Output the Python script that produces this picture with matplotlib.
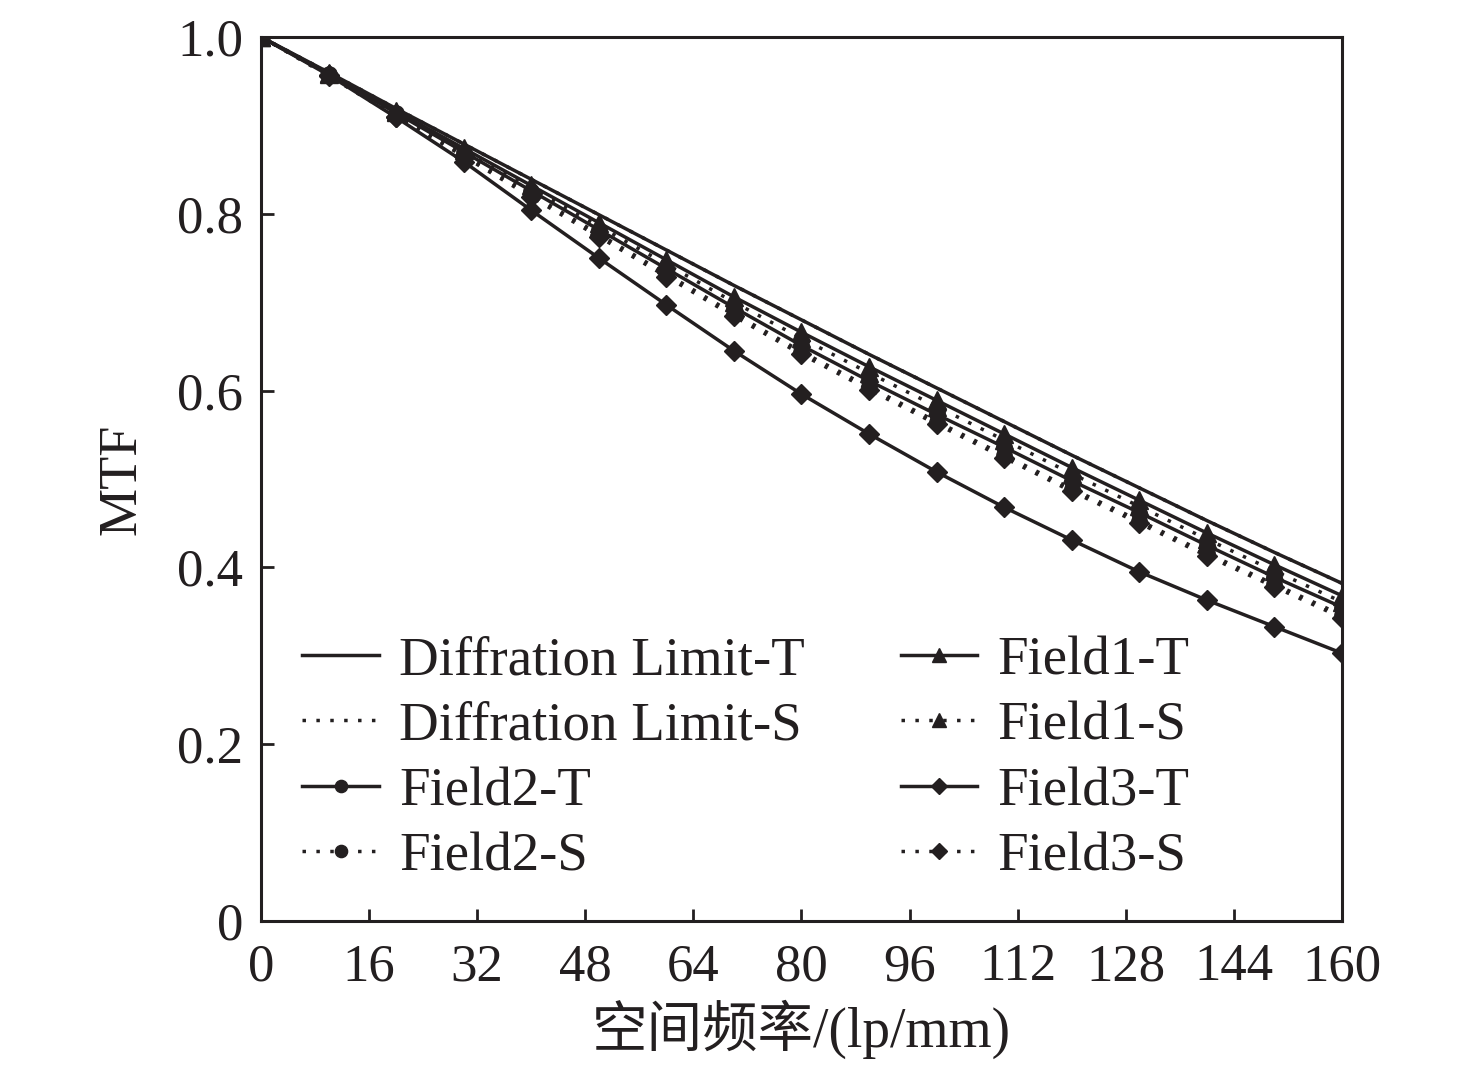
import matplotlib
matplotlib.use('Agg')
import matplotlib.pyplot as plt

plt.rcParams['font.family'] = ['Liberation Serif', 'Noto Sans CJK SC']
plt.rcParams['font.size'] = 38

# spatial frequency (lp/mm) and MTF values
freq = [0, 10, 20, 30, 40, 50, 60, 70, 80, 90, 100, 110, 120, 130, 140, 150, 160]
diff_t = [1.000, 0.960, 0.919, 0.879, 0.839, 0.799, 0.759, 0.719, 0.680, 0.641, 0.603, 0.565, 0.527, 0.490, 0.453, 0.417, 0.382]
diff_s = [1.000, 0.960, 0.919, 0.879, 0.839, 0.799, 0.759, 0.719, 0.680, 0.641, 0.603, 0.565, 0.527, 0.490, 0.453, 0.417, 0.382]
f1_t = [1.000, 0.959, 0.916, 0.874, 0.832, 0.790, 0.748, 0.706, 0.666, 0.627, 0.589, 0.551, 0.513, 0.476, 0.439, 0.403, 0.368]
f1_s = [1.000, 0.958, 0.915, 0.872, 0.829, 0.786, 0.743, 0.700, 0.659, 0.620, 0.582, 0.544, 0.506, 0.469, 0.432, 0.396, 0.361]
f2_t = [1.000, 0.958, 0.914, 0.870, 0.826, 0.782, 0.738, 0.694, 0.651, 0.611, 0.573, 0.536, 0.498, 0.462, 0.425, 0.389, 0.355]
f2_s = [1.000, 0.957, 0.912, 0.867, 0.822, 0.777, 0.732, 0.687, 0.644, 0.604, 0.565, 0.527, 0.489, 0.453, 0.416, 0.381, 0.346]
f3_t = [1.000, 0.957, 0.909, 0.859, 0.804, 0.750, 0.697, 0.645, 0.596, 0.551, 0.508, 0.468, 0.431, 0.395, 0.363, 0.333, 0.303]
f3_s = [1.000, 0.956, 0.910, 0.865, 0.819, 0.774, 0.729, 0.684, 0.641, 0.601, 0.562, 0.524, 0.486, 0.450, 0.413, 0.378, 0.343]

x_ticks = [0, 16, 32, 48, 64, 80, 96, 112, 128, 144, 160]
y_ticks = [0, 0.2, 0.4, 0.6, 0.8, 1.0]
y_tick_labels = ['0', '0.2', '0.4', '0.6', '0.8', '1.0']

ink = '#231f20'
dots = (0, (1, 3))

fig = plt.figure(figsize=(14.76, 10.71), dpi=100)
ax = fig.add_axes([0.1768, 0.140, 0.7324, 0.8255])

ax.plot(freq, diff_t, color=ink, lw=2.5, label='Diffration Limit-T')
ax.plot(freq, diff_s, color=ink, lw=2.5, ls=dots, label='Diffration Limit-S')
ax.plot(freq, f2_t, color=ink, lw=2.5, marker='o', ms=11, label='Field2-T')
ax.plot(freq, f2_s, color=ink, lw=2.5, ls=dots, marker='o', ms=11, label='Field2-S')
ax.plot(freq, f1_t, color=ink, lw=2.5, marker='^', ms=13, label='Field1-T')
ax.plot(freq, f1_s, color=ink, lw=2.5, ls=dots, marker='^', ms=13, label='Field1-S')
ax.plot(freq, f3_t, color=ink, lw=2.5, marker='D', ms=10.5, label='Field3-T')
ax.plot(freq, f3_s, color=ink, lw=2.5, ls=dots, marker='D', ms=10.5, label='Field3-S')

ax.set_xlim(0, 160)
ax.set_ylim(0, 1.0)
ax.set_xticks(x_ticks)
ax.set_yticks(y_ticks)
ax.set_yticklabels(y_tick_labels)
ax.tick_params(direction='in', length=9, width=2, colors=ink)
ax.tick_params(axis='x', pad=16)
ax.tick_params(axis='y', pad=13)
for s in ax.spines.values():
    s.set_linewidth(2.2)
    s.set_color(ink)

ax.set_xlabel('空间频率/(lp/mm)', fontsize=40, labelpad=6, color=ink)
ax.set_ylabel('MTF', fontsize=39, labelpad=21, color=ink)

leg = ax.legend(ncol=2, frameon=False, fontsize=39.5,
                loc='lower left', bbox_to_anchor=(0.018, 0.019), borderaxespad=0,
                handlelength=1.4, handletextpad=0.36, columnspacing=1.75,
                labelspacing=0.27, markerscale=0.8)
for t in leg.get_texts():
    t.set_color(ink)

fig.savefig('out.png', dpi=100)
